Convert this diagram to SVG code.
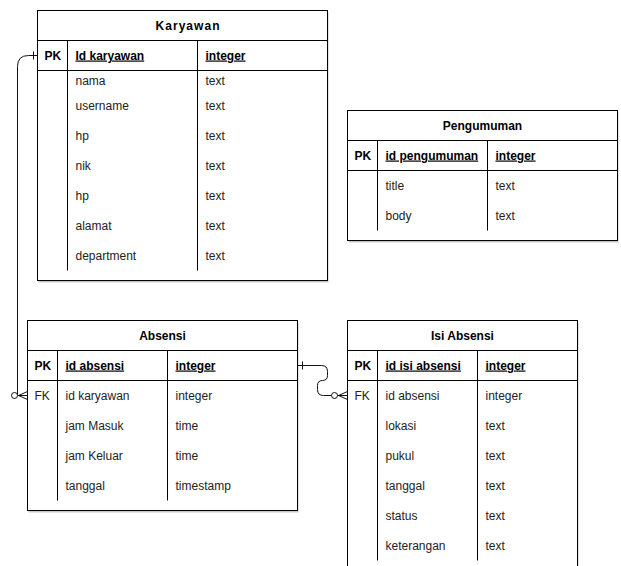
<svg xmlns="http://www.w3.org/2000/svg" width="621" height="566" viewBox="0 0 621 566">
<style>
.box{fill:#fff;stroke:#000;stroke-width:1}
.sh{fill:#000;opacity:0.22}
.ln{stroke:#000;stroke-width:1;fill:none}
.hd{font-family:"Liberation Sans",Arial,sans-serif;font-size:12px;font-weight:bold;fill:#000;text-anchor:middle}
.t{font-family:"Liberation Sans",Arial,sans-serif;font-size:12px;fill:#222}
.pk{font-family:"Liberation Sans",Arial,sans-serif;font-size:12px;font-weight:bold;fill:#000}
.u{text-decoration:underline}
.cn{stroke:#111;stroke-width:1;fill:none}
.mk{fill:#fff;stroke:#111;stroke-width:1}
</style>
<rect width="621" height="566" fill="#fff"/>
<g transform="translate(0.5,0.5)">
<g id="karyawan">
<rect class="sh" x="38" y="12" width="290" height="270"/>
<rect class="box" x="37" y="10" width="290" height="270"/>
<line class="ln" x1="37" y1="40" x2="327" y2="40"/>
<line class="ln" x1="37" y1="70" x2="327" y2="70"/>
<line class="ln" x1="67" y1="40" x2="67" y2="270"/>
<line class="ln" x1="197" y1="40" x2="197" y2="270"/>
<text class="hd" x="187" y="29" textLength="64" lengthAdjust="spacing">Karyawan</text>
<text class="pk" x="44" y="59">PK</text>
<text class="pk u" x="75" y="59">Id karyawan</text>
<text class="pk u" x="205" y="59">integer</text>
<text class="t" x="75" y="84">nama</text><text class="t" x="205" y="84">text</text>
<text class="t" x="75" y="109">username</text><text class="t" x="205" y="109">text</text>
<text class="t" x="75" y="139">hp</text><text class="t" x="205" y="139">text</text>
<text class="t" x="75" y="169">nik</text><text class="t" x="205" y="169">text</text>
<text class="t" x="75" y="199">hp</text><text class="t" x="205" y="199">text</text>
<text class="t" x="75" y="229">alamat</text><text class="t" x="205" y="229">text</text>
<text class="t" x="75" y="259">department</text><text class="t" x="205" y="259">text</text>
</g>
<g id="pengumuman">
<rect class="sh" x="348" y="112" width="270" height="130"/>
<rect class="box" x="347" y="110" width="270" height="130"/>
<line class="ln" x1="347" y1="140" x2="617" y2="140"/>
<line class="ln" x1="347" y1="170" x2="617" y2="170"/>
<line class="ln" x1="377" y1="140" x2="377" y2="230"/>
<line class="ln" x1="487" y1="140" x2="487" y2="230"/>
<text class="hd" x="482" y="129">Pengumuman</text>
<text class="pk" x="354" y="159">PK</text>
<text class="pk u" x="385" y="159">id pengumuman</text>
<text class="pk u" x="495" y="159">integer</text>
<text class="t" x="385" y="189">title</text><text class="t" x="495" y="189">text</text>
<text class="t" x="385" y="219">body</text><text class="t" x="495" y="219">text</text>
</g>
<g id="absensi">
<rect class="sh" x="28" y="322" width="270" height="190"/>
<rect class="box" x="27" y="320" width="270" height="190"/>
<line class="ln" x1="27" y1="350" x2="297" y2="350"/>
<line class="ln" x1="27" y1="380" x2="297" y2="380"/>
<line class="ln" x1="57" y1="350" x2="57" y2="500"/>
<line class="ln" x1="167" y1="350" x2="167" y2="500"/>
<text class="hd" x="162" y="339">Absensi</text>
<text class="pk" x="34" y="369">PK</text>
<text class="pk u" x="65" y="369">id absensi</text>
<text class="pk u" x="175" y="369">integer</text>
<text class="t" x="34" y="399">FK</text>
<text class="t" x="65" y="399">id karyawan</text><text class="t" x="175" y="399">integer</text>
<text class="t" x="65" y="429">jam Masuk</text><text class="t" x="175" y="429">time</text>
<text class="t" x="65" y="459">jam Keluar</text><text class="t" x="175" y="459">time</text>
<text class="t" x="65" y="489">tanggal</text><text class="t" x="175" y="489">timestamp</text>
</g>
<g id="isi-absensi">
<rect class="sh" x="348" y="322" width="230" height="270"/>
<rect class="box" x="347" y="320" width="230" height="270"/>
<line class="ln" x1="347" y1="350" x2="577" y2="350"/>
<line class="ln" x1="347" y1="380" x2="577" y2="380"/>
<line class="ln" x1="377" y1="350" x2="377" y2="560"/>
<line class="ln" x1="477" y1="350" x2="477" y2="560"/>
<text class="hd" x="462" y="339">Isi Absensi</text>
<text class="pk" x="354" y="369">PK</text>
<text class="pk u" x="385" y="369">id isi absensi</text>
<text class="pk u" x="485" y="369">integer</text>
<text class="t" x="354" y="399">FK</text>
<text class="t" x="385" y="399">id absensi</text><text class="t" x="485" y="399">integer</text>
<text class="t" x="385" y="429">lokasi</text><text class="t" x="485" y="429">text</text>
<text class="t" x="385" y="459">pukul</text><text class="t" x="485" y="459">text</text>
<text class="t" x="385" y="489">tanggal</text><text class="t" x="485" y="489">text</text>
<text class="t" x="385" y="519">status</text><text class="t" x="485" y="519">text</text>
<text class="t" x="385" y="549">keterangan</text><text class="t" x="485" y="549">text</text>
</g>
<g id="connectors">
<path class="cn" d="M37,55 H28 Q17,55 17,66 V395 H27"/>
<line class="cn" x1="33" y1="51" x2="33" y2="59"/>
<path class="cn" d="M18,395 L27,391 M18,395 L27,399"/>
<circle class="mk" cx="14" cy="395" r="3"/>
<path class="cn" d="M297,365 H321 Q327,365 327,371 V375 Q327,380 322,380 Q317,380 317,385 V389 Q317,395 323,395 H347"/>
<line class="cn" x1="302" y1="361" x2="302" y2="369"/>
<path class="cn" d="M338,395 L347,391 M338,395 L347,399"/>
<circle class="mk" cx="334" cy="395" r="3"/>
</g>
</g>
</svg>
